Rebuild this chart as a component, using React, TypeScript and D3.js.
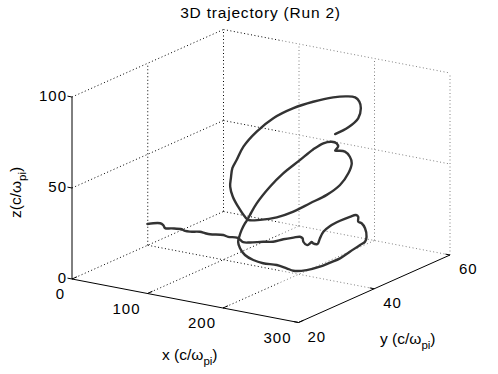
import React, { useEffect, useRef } from "react";
import * as d3 from "d3";

const TITLE = "3D trajectory (Run 2)";
const X_TICKS = [0, 100, 200, 300];
const Y_TICKS = [20, 40, 60];
const Z_TICKS = [0, 50, 100];
const X_DOMAIN = [0, 300];
const Y_DOMAIN = [20, 60];
const Z_DOMAIN = [0, 100];

const TRAJ_X = [
  0, 15, 19, 21, 29, 41, 45, 51, 63, 69, 75, 91, 97, 107, 111, 115, 123, 139, 151, 163,
  175, 183, 186, 187, 190, 190, 190, 190, 190, 192, 194, 196, 198, 200, 201, 201, 201, 201, 201, 201,
  202, 204, 206, 207, 207, 207, 207, 207, 207, 207, 207, 207, 207, 207, 207, 207, 207, 207, 207, 207,
  207, 207, 207, 207, 207, 207, 207, 207, 207, 207, 207, 207, 207, 207, 207, 207, 207, 207, 207, 207,
  207, 207, 207, 207, 207, 207, 207, 207, 207, 207, 207, 207, 207, 207, 207, 207, 207, 207, 207, 207,
  207, 207, 207,
];
const TRAJ_Y = [
  39.9, 40.3, 40.3, 40.4, 40.5, 40.8, 40.9, 41.0, 41.2, 41.4, 41.5, 41.8, 41.9, 42.2, 42.2, 42.3, 42.5, 42.8, 43.0, 43.3,
  43.6, 43.7, 43.8, 43.8, 44.2, 45.0, 45.4, 45.8, 46.9, 46.7, 46.8, 47.3, 48.6, 50.9, 53.3, 54.9, 55.5, 55.5, 56.4, 57.3,
  57.5, 56.7, 55.0, 52.1, 49.5, 46.9, 44.2, 40.7, 37.2, 35.4, 32.8, 29.2, 26.6, 24.4, 23.1, 22.6, 22.9, 23.5, 24.4, 24.9,
  25.7, 27.5, 31.0, 34.5, 38.9, 42.4, 45.1, 47.3, 48.6, 49.0, 48.2, 49.0, 50.8, 52.1, 52.6, 51.7, 49.5, 46.0, 41.6, 37.2,
  32.8, 28.4, 25.3, 24.4, 22.6, 21.2, 20.5, 20.7, 21.1, 22.2, 24.0, 27.5, 31.9, 37.2, 42.4, 47.7, 51.3, 53.5, 54.6, 55.0,
  54.3, 51.7, 48.2,
];
const TRAJ_Z = [
  11.8, 13.0, 12.3, 10.7, 11.1, 11.3, 10.6, 10.6, 11.3, 10.8, 10.6, 11.2, 10.6, 10.7, 10.0, 8.7, 9.0, 10.4, 11.2, 13.2,
  14.8, 15.8, 15.1, 13.3, 11.3, 11.6, 11.9, 10.8, 9.4, 10.1, 13.0, 16.3, 18.3, 19.3, 19.3, 18.8, 17.3, 14.6, 12.9, 9.3,
  4.5, 2.7, 2.7, 1.7, 0.5, 0.6, 0.8, 2.2, 5.1, 8.1, 12.3, 16.6, 20.8, 25.6, 30.5, 34.5, 37.0, 40.1, 43.0, 44.0,
  46.3, 51.1, 57.0, 61.1, 64.3, 66.9, 67.8, 66.6, 64.5, 62.3, 60.9, 60.1, 57.9, 53.9, 49.9, 45.2, 40.8, 38.6, 38.1, 37.6,
  38.5, 41.2, 44.0, 46.6, 53.8, 60.6, 66.8, 71.4, 76.5, 79.8, 85.5, 90.5, 93.8, 94.4, 93.1, 90.6, 87.8, 85.2, 81.9, 77.9,
  73.0, 70.5, 70.0,
];

const W = 498;
const H = 374;
const ORIGIN = [72, 279];
const EX = [226.5, 43.5];
const EY = [151.5, -67.5];
const EZ = [0, -182];
const FONT = "'Liberation Sans', Arial, Helvetica, sans-serif";

export default function App() {
  const ref = useRef<SVGSVGElement>(null);

  useEffect(() => {
    const svg = d3.select(ref.current);
    svg.selectAll("*").remove();

    const xs = d3.scaleLinear().domain(X_DOMAIN).range([0, 1]);
    const ys = d3.scaleLinear().domain(Y_DOMAIN).range([0, 1]);
    const zs = d3.scaleLinear().domain(Z_DOMAIN).range([0, 1]);
    const P = (x: number, y: number, z: number): [number, number] => [
      ORIGIN[0] + xs(x) * EX[0] + ys(y) * EY[0] + zs(z) * EZ[0],
      ORIGIN[1] + xs(x) * EX[1] + ys(y) * EY[1] + zs(z) * EZ[1],
    ];

    const [x0, x1] = X_DOMAIN;
    const [y0, y1] = Y_DOMAIN;
    const [z0, z1] = Z_DOMAIN;

    // grid segments
    const grid: [number, number, number][][] = [];
    X_TICKS.filter((t) => t !== x1).forEach((t) => grid.push([[t, y0, z0], [t, y1, z0]]));
    Y_TICKS.filter((t) => t !== y0).forEach((t) => grid.push([[x0, t, z0], [x1, t, z0]]));
    Z_TICKS.filter((t) => t !== z0).forEach((t) => grid.push([[x0, y1, t], [x1, y1, t]]));
    X_TICKS.forEach((t) => grid.push([[t, y1, z0], [t, y1, z1]]));
    Z_TICKS.filter((t) => t !== z0).forEach((t) => grid.push([[x0, y0, t], [x0, y1, t]]));
    Y_TICKS.filter((t) => t !== y0 && t !== y1).forEach((t) => grid.push([[x0, t, z0], [x0, t, z1]]));

    const defs = svg.append("defs");
    defs.append("clipPath").attr("id", "clipL").append("rect")
      .attr("x", 0).attr("y", 0).attr("width", 280).attr("height", H);
    defs.append("clipPath").attr("id", "clipR").append("rect")
      .attr("x", 280).attr("y", 0).attr("width", W - 280).attr("height", H);

    const drawGrid = (clip: string, color: string) => {
      const g = svg.append("g").attr("clip-path", `url(#${clip})`);
      grid.forEach((seg) => {
        const a = P(...seg[0]);
        const b = P(...seg[1]);
        g.append("line")
          .attr("x1", a[0]).attr("y1", a[1]).attr("x2", b[0]).attr("y2", b[1])
          .attr("stroke", color).attr("stroke-width", 1)
          .attr("stroke-dasharray", "1,2.5");
      });
    };
    drawGrid("clipL", "#000");
    drawGrid("clipR", "#808080");

    // axes
    const axes: [number, number, number][][] = [
      [[x0, y0, z0], [x1, y0, z0]],
      [[x1, y0, z0], [x1, y1, z0]],
      [[x0, y0, z0], [x0, y0, z1]],
    ];
    X_TICKS.forEach((t) => axes.push([[t, y0, z0], [t, y0 + 1.3, z0]]));
    Y_TICKS.forEach((t) => axes.push([[x1, t, z0], [x1 - 6, t, z0]]));
    Z_TICKS.forEach((t) => axes.push([[x0, y0, t], [x0 - 6, y0, t]]));
    const ga = svg.append("g");
    axes.forEach((seg) => {
      const a = P(...seg[0]);
      const b = P(...seg[1]);
      ga.append("line")
        .attr("x1", a[0]).attr("y1", a[1]).attr("x2", b[0]).attr("y2", b[1])
        .attr("stroke", "#000").attr("stroke-width", 1);
    });

    // trajectory
    const pts = TRAJ_X.map((x, i) => P(x, TRAJ_Y[i], TRAJ_Z[i]));
    const line = d3.line<[number, number]>()
      .x((d) => d[0]).y((d) => d[1])
      .curve(d3.curveCatmullRom.alpha(0.5));
    svg.append("path")
      .attr("d", line(pts))
      .attr("fill", "none")
      .attr("stroke", "#333")
      .attr("stroke-width", 2.4)
      .attr("stroke-linejoin", "round")
      .attr("stroke-linecap", "round");

    const txt = svg.append("g").attr("font-family", FONT).attr("fill", "#000");

    // tick labels
    X_TICKS.forEach((t) => {
      const p = P(t, y0, z0);
      txt.append("text").attr("x", p[0] - 7).attr("y", p[1] + 15).attr("dy", "0.35em")
        .attr("text-anchor", "end").attr("font-size", 15).attr("letter-spacing", 1).text(String(t));
    });
    Y_TICKS.forEach((t) => {
      const p = P(x1, t, z0);
      txt.append("text").attr("x", p[0] + 9).attr("y", p[1] + 14).attr("dy", "0.35em")
        .attr("text-anchor", "start").attr("font-size", 15).attr("letter-spacing", 1).text(String(t));
    });
    Z_TICKS.forEach((t) => {
      const p = P(x0, y0, t);
      txt.append("text").attr("x", p[0] - 5).attr("y", p[1] - 1.5).attr("dy", "0.35em")
        .attr("text-anchor", "end").attr("font-size", 15).attr("letter-spacing", 1).text(String(t));
    });

    // title
    txt.append("text").attr("x", 260.5).attr("y", 17.5).attr("text-anchor", "middle")
      .attr("font-size", 15.5).attr("letter-spacing", 0.8).text(TITLE);

    const label = (sel: any, main: string) => {
      sel.append("tspan").text(main);
      sel.append("tspan").attr("dy", 5).attr("font-size", 11.5).text("pi");
      sel.append("tspan").attr("dy", -5).text(")");
    };
    label(txt.append("text").attr("x", 162).attr("y", 360).attr("font-size", 15.5), "x (c/ω");
    label(txt.append("text").attr("x", 380).attr("y", 344).attr("font-size", 15.5), "y (c/ω");
    label(
      txt.append("text").attr("transform", "translate(21,218) rotate(-90)").attr("font-size", 15.5),
      "z(c/ω"
    );
  }, []);

  return (
    <svg
      ref={ref}
      width={W}
      height={H}
      style={{ position: "absolute", left: 0, top: 0, background: "#fff" }}
    />
  );
}
